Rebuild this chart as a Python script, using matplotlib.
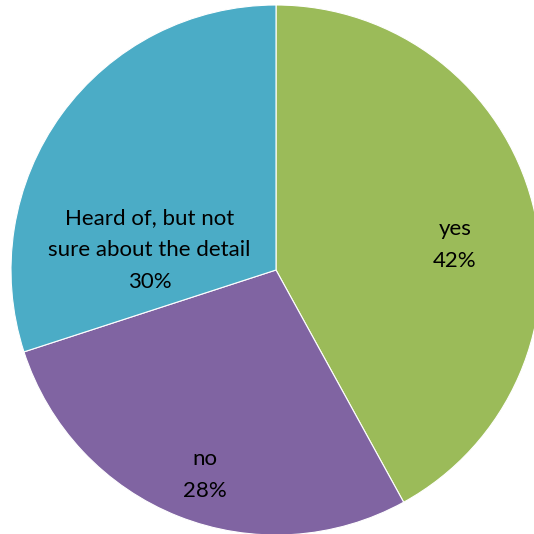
import matplotlib
matplotlib.use('Agg')
import matplotlib.pyplot as plt

# 認知度の内訳
labels = ['yes', 'no', 'Heard of, but not\nsure about the detail']
shares = [42, 28, 30]
colors = ['#9BBB59', '#8064A2', '#4BACC6']

# ラベルの位置 (円の半径を1とした座標)
label_xy = [(0.675, 0.094), (-0.268, -0.772), (-0.478, 0.075)]

fig = plt.figure(figsize=(5.34, 5.34), dpi=100)
ax = fig.add_axes([11 / 534, -1 / 534, 530 / 534, 530 / 534])

wedges, _ = ax.pie(shares, colors=colors, startangle=90, counterclock=False,
                   radius=1.0, wedgeprops=dict(edgecolor='white', linewidth=0.8))

for lab, val, (x, y) in zip(labels, shares, label_xy):
    ax.text(x, y, f'{lab}\n{val}%', ha='center', va='center',
            fontsize=16, family=['Lato', 'DejaVu Sans'], linespacing=1.75, color='black')

ax.set_xlim(-1, 1)
ax.set_ylim(-1, 1)
ax.set_aspect('equal')
ax.axis('off')

fig.savefig('out.png', dpi=100)
